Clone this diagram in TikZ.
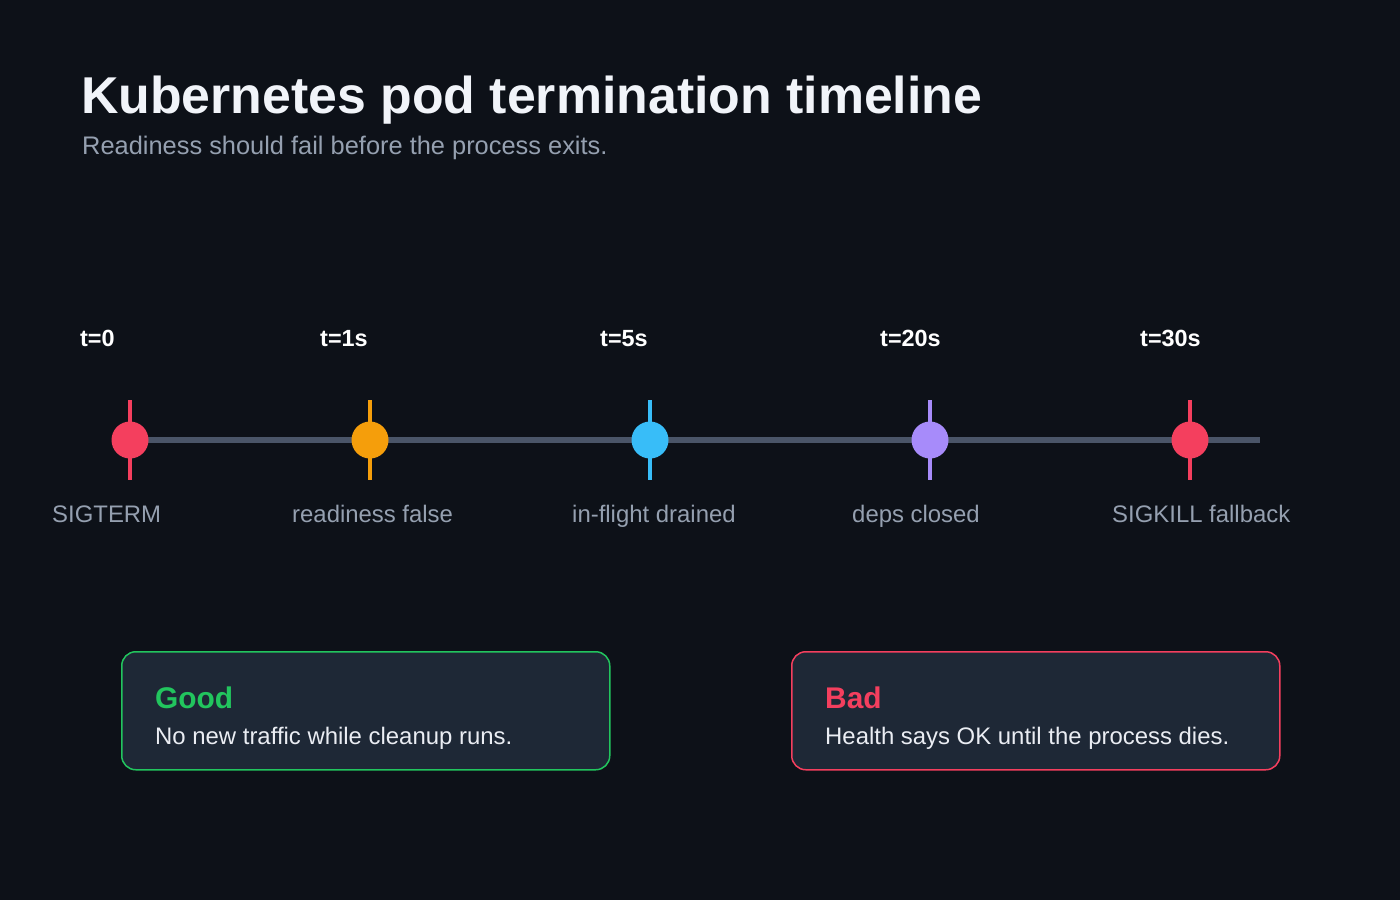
\documentclass[tikz,border=0pt]{standalone}
\usepackage{fontspec}
\setmainfont{Liberation Sans}
\usepackage{xcolor}
\usepackage{tikz}
\usetikzlibrary{positioning}

\definecolor{bgc}{HTML}{0D1118}
\definecolor{cardc}{HTML}{1E2836}
\definecolor{axisc}{HTML}{4A5568}
\definecolor{titlec}{HTML}{F1F4F9}
\definecolor{subc}{HTML}{95A0B0}
\definecolor{redc}{HTML}{F43F5E}
\definecolor{orangec}{HTML}{F59E0B}
\definecolor{bluec}{HTML}{38BDF8}
\definecolor{purplec}{HTML}{A78BFA}
\definecolor{greenc}{HTML}{22C55E}

\tikzset{
	titletext/.style={anchor=base west, inner sep=0, text=titlec, font=\fontsize{52}{56}\selectfont\bfseries},
	subtext/.style={anchor=base west, inner sep=0, text=subc, font=\fontsize{25.5}{29}\selectfont},
	axisline/.style={draw=axisc, line width=6bp},
	tickline/.style={line width=4bp},
	dot/.style={circle, minimum size=37bp, inner sep=0},
	timelbl/.style={anchor=base west, inner sep=0, text=white, font=\fontsize{23.5}{27}\selectfont\bfseries},
	evtlbl/.style={anchor=base west, inner sep=0, text=subc, font=\fontsize{24}{28}\selectfont},
	card/.style={anchor=north west, rounded corners=14bp, fill=cardc, line width=1.5bp, minimum width=488bp, minimum height=118bp},
	cardhead/.style={anchor=base west, inner sep=0, font=\fontsize{30}{34}\selectfont\bfseries},
	cardbody/.style={anchor=base west, inner sep=0, text=titlec!92!subc, font=\fontsize{24}{28}\selectfont}
}

\begin{document}
\begin{tikzpicture}[x=1bp,y=-1bp]
					\fill[bgc] (0,0) rectangle (1400,900);
					\useasboundingbox (0,0) rectangle (1400,900);
					% heading
					\node[titletext] (ttl) at (81,113) {Kubernetes pod termination timeline};
					\node[subtext] (sub) at (82,154) {Readiness should fail before the process exits.};
					% timeline
					\coordinate (p1) at (130,440);
					\coordinate (tend) at (1260,440);
					\draw[axisline] (p1) -- (tend);
					\foreach \x/\c/\t/\l [count=\i] in {130/redc/t=0/SIGTERM, 370/orangec/t=1s/readiness false, 650/bluec/t=5s/in-flight drained, 930/purplec/t=20s/deps closed, 1190/redc/t=30s/SIGKILL fallback} {
						\draw[tickline, draw=\c] (\x,400) -- (\x,480);
						\node[dot, fill=\c] (m\i) at (\x,440) {};
						\node[timelbl] (t\i) at (\x-50,346) {\t};
						\node[evtlbl] (e\i) at (\x-78,522) {\l};
					}
					% outcome cards
					\node[card, draw=greenc] (good) at (121,651) {};
					\node[cardhead, text=greenc] (goodh) at (155,708) {Good};
					\node[cardbody] (goodb) at (155,744) {No new traffic while cleanup runs.};
					\node[card, draw=redc] (bad) at (791,651) {};
					\node[cardhead, text=redc] (badh) at (825,708) {Bad};
					\node[cardbody] (badb) at (825,744) {Health says OK until the process dies.};
				\end{tikzpicture}
\end{document}
